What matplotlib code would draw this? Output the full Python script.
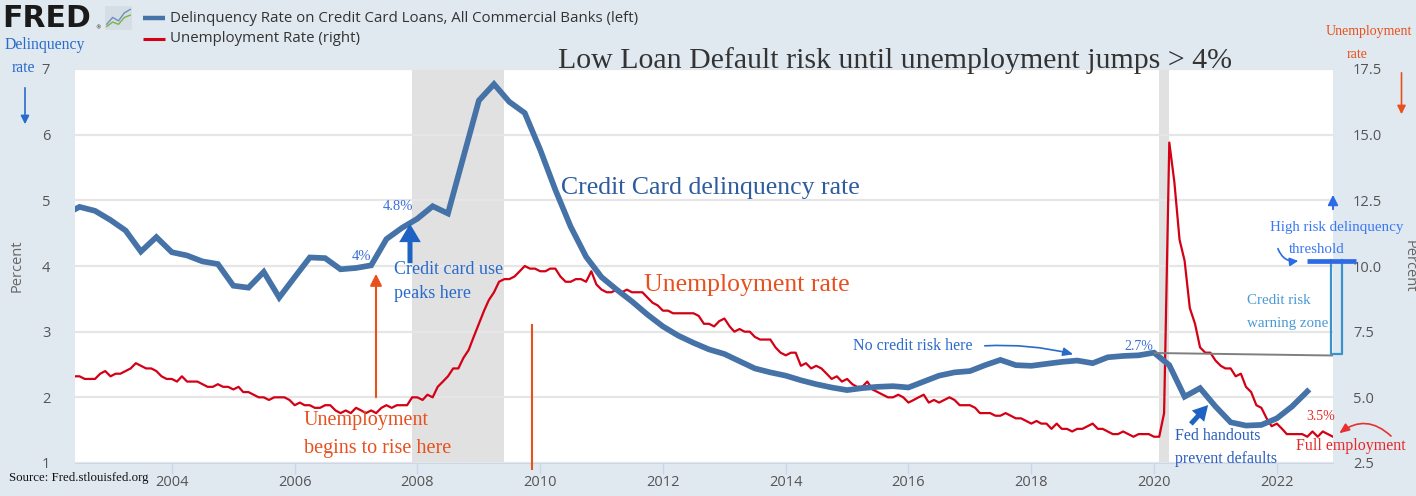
import numpy as np
import pandas as pd
import matplotlib
matplotlib.use('Agg')
import matplotlib.pyplot as plt
import matplotlib.dates as mdates
from matplotlib.patches import FancyArrowPatch
from matplotlib.lines import Line2D

# delinquency rate on credit card loans, all commercial banks (%), quarterly 2002Q2 - 2022Q3
delinq = [4.78, 4.90, 4.84,
          4.70, 4.54, 4.22, 4.44,
          4.21, 4.16, 4.07, 4.03,
          3.70, 3.67, 3.91, 3.52,
          3.83, 4.13, 4.12, 3.95,
          3.97, 4.01, 4.41, 4.58,
          4.72, 4.91, 4.80, 5.66,
          6.52, 6.77, 6.50, 6.33,
          5.77, 5.16, 4.60, 4.14,
          3.83, 3.64, 3.46, 3.26,
          3.08, 2.94, 2.83, 2.73,
          2.66, 2.55, 2.44, 2.38,
          2.33, 2.26, 2.20, 2.15,
          2.11, 2.14, 2.16, 2.17,
          2.15, 2.24, 2.33, 2.38,
          2.40, 2.49, 2.57, 2.49,
          2.48, 2.51, 2.54, 2.56,
          2.52, 2.61, 2.63, 2.64,
          2.68, 2.49, 2.01, 2.14,
          1.86, 1.62, 1.57, 1.58,
          1.68, 1.86, 2.09]
quarters = pd.period_range('2002Q2', '2022Q3', freq='Q').to_timestamp()

# unemployment rate (%), monthly 2002-06 - 2022-12
unrate = ([5.8, 5.8, 5.7, 5.7, 5.7, 5.9, 6.0] +
          [5.8, 5.9, 5.9, 6.0, 6.1, 6.3, 6.2, 6.1, 6.1, 6.0, 5.8, 5.7] +
          [5.7, 5.6, 5.8, 5.6, 5.6, 5.6, 5.5, 5.4, 5.4, 5.5, 5.4, 5.4] +
          [5.3, 5.4, 5.2, 5.2, 5.1, 5.0, 5.0, 4.9, 5.0, 5.0, 5.0, 4.9] +
          [4.7, 4.8, 4.7, 4.7, 4.6, 4.6, 4.7, 4.7, 4.5, 4.4, 4.5, 4.4] +
          [4.6, 4.5, 4.4, 4.5, 4.4, 4.6, 4.7, 4.6, 4.7, 4.7, 4.7, 5.0] +
          [5.0, 4.9, 5.1, 5.0, 5.4, 5.6, 5.8, 6.1, 6.1, 6.5, 6.8, 7.3] +
          [7.8, 8.3, 8.7, 9.0, 9.4, 9.5, 9.5, 9.6, 9.8, 10.0, 9.9, 9.9] +
          [9.8, 9.8, 9.9, 9.9, 9.6, 9.4, 9.4, 9.5, 9.5, 9.4, 9.8, 9.3] +
          [9.1, 9.0, 9.0, 9.1, 9.0, 9.1, 9.0, 9.0, 9.0, 8.8, 8.6, 8.5] +
          [8.3, 8.3, 8.2, 8.2, 8.2, 8.2, 8.2, 8.1, 7.8, 7.8, 7.7, 7.9] +
          [8.0, 7.7, 7.5, 7.6, 7.5, 7.5, 7.3, 7.2, 7.2, 7.2, 6.9, 6.7] +
          [6.6, 6.7, 6.7, 6.2, 6.3, 6.1, 6.2, 6.1, 5.9, 5.7, 5.8, 5.6] +
          [5.7, 5.5, 5.4, 5.4, 5.6, 5.3, 5.2, 5.1, 5.0, 5.0, 5.1, 5.0] +
          [4.8, 4.9, 5.0, 5.1, 4.8, 4.9, 4.8, 4.9, 5.0, 4.9, 4.7, 4.7] +
          [4.7, 4.6, 4.4, 4.4, 4.4, 4.3, 4.3, 4.4, 4.3, 4.2, 4.2, 4.1] +
          [4.0, 4.1, 4.0, 4.0, 3.8, 4.0, 3.8, 3.8, 3.7, 3.8, 3.8, 3.9] +
          [4.0, 3.8, 3.8, 3.7, 3.6, 3.6, 3.7, 3.6, 3.5, 3.6, 3.6, 3.6] +
          [3.5, 3.5, 4.4, 14.7, 13.2, 11.0, 10.2, 8.4, 7.8, 6.9, 6.7, 6.7] +
          [6.4, 6.2, 6.1, 6.1, 5.8, 5.9, 5.4, 5.2, 4.7, 4.6, 4.2, 3.9] +
          [4.0, 3.8, 3.6, 3.6, 3.6, 3.6, 3.5, 3.7, 3.5, 3.7, 3.6, 3.5])
months = pd.period_range('2002-06', '2022-12', freq='M').to_timestamp()

recessions = [('2007-12-01', '2009-06-01'), ('2020-02-01', '2020-04-01')]
left_ticks = [1, 2, 3, 4, 5, 6, 7]
right_ticks = [2.5, 5.0, 7.5, 10.0, 12.5, 15.0, 17.5]

W, H = 1416, 496
BG = '#e1e9f0'
BLUE = '#4572a7'
RED = '#d40015'
ORANGE = '#e8501e'
ABLUE = '#2a6acb'
TICKC = '#555555'
SERIF = ['Liberation Serif', 'DejaVu Serif']
SANS = ['Open Sans', 'DejaVu Sans']

fig = plt.figure(figsize=(W / 100, H / 100), dpi=100, facecolor=BG)


def P(x, y):
    return (x / W, 1 - y / H)


def ftext(x, y, s, **kw):
    kw.setdefault('family', SERIF)
    kw.setdefault('va', 'center')
    fig.text(x / W, 1 - y / H, s, **kw)


def farrow(p1, p2, **kw):
    fig.add_artist(FancyArrowPatch(P(*p1), P(*p2), transform=fig.transFigure, **kw))


def fline(xs, ys, **kw):
    fig.add_artist(Line2D([x / W for x in xs], [1 - y / H for y in ys],
                          transform=fig.transFigure, **kw))


# plot area: ax2 (right scale, unemployment) sits under ax (left scale, delinquency)
plot_w = 1333 - 74.5
ax2 = fig.add_axes([74.5 / W, 33 / H, plot_w / W, 394 / H])
ax = ax2.twinx()
ax2.set_facecolor('white')
ax.patch.set_visible(False)

for a, b in recessions:
    ax2.axvspan(pd.Timestamp(a), pd.Timestamp(b), color='#e1e1e1', lw=0, zorder=0)

ax2.plot(months, unrate, color=RED, lw=1.6, zorder=2)
ax.plot(quarters, delinq, color=BLUE, lw=4.1, zorder=3, solid_joinstyle='miter')

ax.set_ylim(1, 7)
ax2.set_ylim(2.5, 17.5)
ax.set_yticks(left_ticks)
ax.set_yticklabels([str(t) for t in left_ticks])
ax2.set_yticks(right_ticks)
ax2.grid(axis='y', color='#e6e6e6', lw=1.6, zorder=0)
ax2.set_xlim(pd.Timestamp('2002-06-01'), pd.Timestamp('2022-12-01'))
ax2.xaxis.set_major_locator(mdates.YearLocator(2))
ax2.xaxis.set_major_formatter(mdates.DateFormatter('%Y'))

for a in (ax, ax2):
    for s in a.spines.values():
        s.set_visible(False)
ax.tick_params(axis='y', which='both', left=False, right=False, labelleft=True, labelright=False,
               pad=14, labelsize=10.5, labelcolor=TICKC)
ax2.tick_params(axis='y', which='both', left=False, right=False, labelleft=False, labelright=False)
for lab in ax.get_yticklabels():
    lab.set_family(SANS)
# right scale labels, placed 20 px right of the plot edge
for t in right_ticks:
    ax2.text(1 + 20 / plot_w, t, '%.1f' % t, transform=ax2.get_yaxis_transform(),
             ha='left', va='center_baseline', family=SANS, fontsize=10.5, color=TICKC,
             clip_on=False)

ax2.spines['bottom'].set_visible(True)
ax2.spines['bottom'].set_color('#ccd6eb')
ax2.tick_params(axis='x', length=8, width=1, color='#ccd6eb', pad=1,
                labelsize=10.5, labelcolor=TICKC)
for lab in ax2.get_xticklabels():
    lab.set_family(SANS)

fig.text(17.5 / W, 1 - 266 / H, 'Percent', rotation=90, ha='center', va='center',
         family=SANS, fontsize=10.5, color='#666666')
fig.text(1409 / W, 1 - 266 / H, 'Percent', rotation=270, ha='center', va='center',
         family=SANS, fontsize=10.5, color='#666666')

# FRED header and legend
fig.text(2 / W, 1 - 18.5 / H, 'FRED', family=['DejaVu Sans'], fontweight='bold',
         fontsize=21.5, color='#1a1a1a', va='center')
fig.text(95 / W, 1 - 28 / H, '®', family=['DejaVu Sans'], fontsize=4, color='#1a1a1a', va='center')
icon = fig.add_axes([105 / W, 1 - 30 / H, 27 / W, 24 / H])
icon.set_facecolor('#d5dde5')
icon.plot([0, 1, 2, 3, 4], [1, 2.2, 1.6, 3, 3.6], color='#6d8fc0', lw=1)
icon.plot([0, 1, 2, 3, 4], [0.6, 1.4, 1.0, 2.2, 2.6], color='#7cb342', lw=1)
icon.set_xlim(-0.3, 4.3)
icon.set_ylim(0, 4.2)
icon.set_xticks([])
icon.set_yticks([])
for s in icon.spines.values():
    s.set_visible(False)

fline([143, 165], [17.5, 17.5], color=BLUE, lw=3.2, solid_capstyle='butt')
fline([143, 165], [38.5, 38.5], color=RED, lw=2.2, solid_capstyle='butt')
ftext(170, 18, 'Delinquency Rate on Credit Card Loans, All Commercial Banks (left)',
      family=SANS, fontsize=10.8, color='#333333')
ftext(170, 39, 'Unemployment Rate (right)', family=SANS, fontsize=10.8, color='#333333')

# axis notes
ftext(5, 45, 'Delinquency', fontsize=11.3, color=ABLUE)
ftext(23, 68, 'rate', fontsize=11.3, color=ABLUE, ha='center')
farrow((25, 85), (25, 127), arrowstyle='-|>,head_length=5,head_width=2.5', color=ABLUE, lw=1.2)
ftext(1326, 32, 'Unemployment', fontsize=10, color=ORANGE)
ftext(1357, 54, 'rate', fontsize=10, color=ORANGE, ha='center')
farrow((1401.5, 70), (1401.5, 117), arrowstyle='-|>,head_length=5,head_width=2.5', color=ORANGE, lw=1.2)

# title and series labels
ftext(558, 61, 'Low Loan Default risk until unemployment jumps > 4%', fontsize=21.5, color='#333333')
ftext(561, 188, 'Credit Card delinquency rate', fontsize=18.5, color='#2e5c9e')
ftext(644, 285, 'Unemployment rate', fontsize=18.5, color=ORANGE)

# 2007-2008 notes
ftext(383, 207, '4.8%', fontsize=10.5, color='#3a6fd8')
ftext(352, 257, '4%', fontsize=10.5, color='#3a6fd8')
farrow((410, 266), (410, 221), mutation_scale=12,
       arrowstyle='simple,head_length=1.1,head_width=1.3,tail_width=0.3',
       color='#1e63c4', lw=0)
ftext(394, 269, 'Credit card use', fontsize=13, color=ABLUE)
ftext(394, 294, 'peaks here', fontsize=13, color=ABLUE)
farrow((376, 400), (376, 271), arrowstyle='-|>,head_length=7,head_width=3.5', color=ORANGE, lw=1.5)
ftext(304, 421, 'Unemployment', fontsize=14.5, color=ORANGE)
ftext(304, 448, 'begins to rise here', fontsize=14.5, color=ORANGE)
fline([532, 532], [325, 469], color=ORANGE, lw=1.5)

# 2018-2020 notes
ftext(853, 346, 'No credit risk here', fontsize=11.5, color=ABLUE)
farrow((982, 346), (1076, 355), connectionstyle='arc3,rad=-0.08',
       arrowstyle='-|>,head_length=6,head_width=2.5', color=ABLUE, lw=1.2)
ftext(1124, 346, '2.7%', fontsize=10, color='#3a6fd8')
fline([1155, 1332], [353, 355.5], color='#7f7f7f', lw=1.4)

# threshold bracket
fline([1331, 1331, 1342, 1342], [260, 353.5, 353.5, 260], color='#3c92cc', lw=1.6)
fline([1307, 1356], [260.5, 260.5], color='#2d6be4', lw=3.4, solid_capstyle='butt')
farrow((1333, 212), (1333, 192), arrowstyle='-|>,head_length=6,head_width=3', color='#2d6be4', lw=1.4)
ftext(1337, 228, 'High risk delinquency', fontsize=10.8, color='#3a78f2', ha='center')
ftext(1317, 249, 'threshold', fontsize=10.8, color='#3a78f2', ha='center')
farrow((1277, 246), (1301, 260.5), connectionstyle='arc3,rad=0.45',
       arrowstyle='-|>,head_length=5,head_width=2.5', color='#2d6be4', lw=1.2)
ftext(1247, 300, 'Credit risk', fontsize=10.8, color='#4a9ad4')
ftext(1247, 323, 'warning zone', fontsize=10.8, color='#4a9ad4')

# 2020-2022 notes
farrow((1189, 426), (1210, 403), mutation_scale=12,
       arrowstyle='simple,head_length=0.9,head_width=1.0,tail_width=0.3',
       color='#1e63c4', lw=0)
ftext(1175, 436, 'Fed handouts', fontsize=11.5, color='#2a5fc0')
ftext(1175, 459, 'prevent defaults', fontsize=11.5, color='#2a5fc0')
ftext(1306, 416, '3.5%', fontsize=10, color='#e82828')
ftext(1296, 446, 'Full employment', fontsize=11.5, color='#e82828')
farrow((1393, 438), (1337, 435), connectionstyle='arc3,rad=0.45',
       arrowstyle='-|>,head_length=6,head_width=2.5', color='#e83030', lw=1.2)

ftext(9, 478, 'Source: Fred.stlouisfed.org', fontsize=9.3, color='#111111')

fig.savefig('out.png', dpi=100, facecolor=fig.get_facecolor())
